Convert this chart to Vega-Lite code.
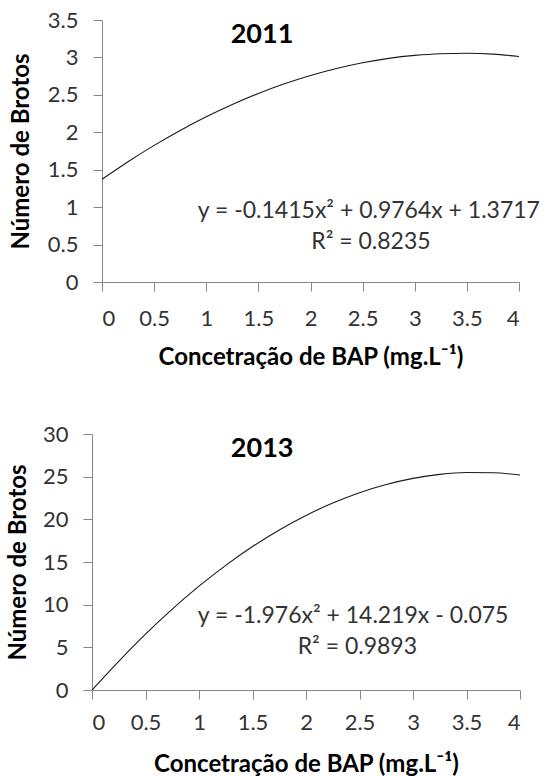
{
  "$schema": "https://vega.github.io/schema/vega-lite/v6.json",
  "background": "white",
  "padding": {"left": 6, "top": 9, "right": 0, "bottom": 0},
  "spacing": 54,
  "datasets": {
    "y2011": [
      {"conc": 0, "brotos": 1.372},
      {"conc": 0.25, "brotos": 1.607},
      {"conc": 0.5, "brotos": 1.825},
      {"conc": 0.75, "brotos": 2.025},
      {"conc": 1, "brotos": 2.207},
      {"conc": 1.25, "brotos": 2.371},
      {"conc": 1.5, "brotos": 2.518},
      {"conc": 1.75, "brotos": 2.647},
      {"conc": 2, "brotos": 2.759},
      {"conc": 2.25, "brotos": 2.852},
      {"conc": 2.5, "brotos": 2.928},
      {"conc": 2.75, "brotos": 2.987},
      {"conc": 3, "brotos": 3.027},
      {"conc": 3.25, "brotos": 3.05},
      {"conc": 3.5, "brotos": 3.056},
      {"conc": 3.75, "brotos": 3.044},
      {"conc": 4, "brotos": 3.013}
    ],
    "y2013": [
      {"conc": 0, "brotos": 0},
      {"conc": 0.25, "brotos": 3.36},
      {"conc": 0.5, "brotos": 6.54},
      {"conc": 0.75, "brotos": 9.48},
      {"conc": 1, "brotos": 12.17},
      {"conc": 1.25, "brotos": 14.61},
      {"conc": 1.5, "brotos": 16.81},
      {"conc": 1.75, "brotos": 18.76},
      {"conc": 2, "brotos": 20.46},
      {"conc": 2.25, "brotos": 21.91},
      {"conc": 2.5, "brotos": 23.12},
      {"conc": 2.75, "brotos": 24.08},
      {"conc": 3, "brotos": 24.8},
      {"conc": 3.25, "brotos": 25.27},
      {"conc": 3.5, "brotos": 25.49},
      {"conc": 3.75, "brotos": 25.46},
      {"conc": 4, "brotos": 25.19}
    ],
    "one": [{}]
  },
  "config": {
    "font": "Lato",
    "view": {"stroke": null},
    "axis": {
      "grid": false,
      "domainColor": "#868686",
      "tickColor": "#868686",
      "tickSize": 9,
      "labelOverlap": false,
      "labelFont": "Lato",
      "labelFontSize": 22,
      "labelColor": "#333333",
      "titleFont": "Lato",
      "titleFontSize": 24,
      "titleFontWeight": "bold",
      "titleColor": "#000000"
    }
  },
  "vconcat": [
    {
      "width": 427,
      "height": 262,
      "layer": [
        {
          "data": {"name": "y2011"},
          "mark": {"type": "line", "color": "#1a1a1a", "strokeWidth": 1.1, "interpolate": "monotone"},
          "encoding": {
            "x": {
              "field": "conc", "type": "quantitative",
              "scale": {"domain": [0, 4], "nice": false, "range": [10, 427]},
              "axis": {"values": [0, 0.5, 1, 1.5, 2, 2.5, 3, 3.5, 4], "format": ".1~f", "labelOverlap": false, "labelPadding": 17, "titlePadding": 16, "title": "Concetração de BAP (mg.L⁻¹)"}
            },
            "y": {
              "field": "brotos", "type": "quantitative",
              "scale": {"domain": [0, 3.5], "nice": false},
              "axis": {"values": [0, 0.5, 1, 1.5, 2, 2.5, 3, 3.5], "tickCount": 8, "format": ".1~f", "labelOverlap": false, "offset": -10, "labelPadding": 15, "titlePadding": 14, "title": "Número de Brotos"}
            }
          }
        },
        {
          "data": {"name": "one"},
          "mark": {"type": "text", "fontSize": 27, "fontWeight": "bold", "color": "#000000"},
          "encoding": {
            "x": {"datum": 1.535, "type": "quantitative"},
            "y": {"datum": 3.3, "type": "quantitative"},
            "text": {"value": "2011"}
          }
        },
        {
          "data": {"name": "one"},
          "mark": {"type": "text", "fontSize": 23, "color": "#333333"},
          "encoding": {
            "x": {"datum": 2.56, "type": "quantitative"},
            "y": {"datum": 0.953, "type": "quantitative"},
            "text": {"value": "y = -0.1415x² + 0.9764x + 1.3717"}
          }
        },
        {
          "data": {"name": "one"},
          "mark": {"type": "text", "fontSize": 23, "color": "#333333"},
          "encoding": {
            "x": {"datum": 2.58, "type": "quantitative"},
            "y": {"datum": 0.54, "type": "quantitative"},
            "text": {"value": "R² = 0.8235"}
          }
        }
      ]
    },
    {
      "width": 428,
      "height": 256,
      "layer": [
        {
          "data": {"name": "y2013"},
          "mark": {"type": "line", "color": "#1a1a1a", "strokeWidth": 1.1, "interpolate": "monotone"},
          "encoding": {
            "x": {
              "field": "conc", "type": "quantitative",
              "scale": {"domain": [0, 4], "nice": false},
              "axis": {"values": [0, 0.5, 1, 1.5, 2, 2.5, 3, 3.5, 4], "format": ".1~f", "labelOverlap": false, "labelPadding": 13, "titlePadding": 19, "title": "Concetração de BAP (mg.L⁻¹)"}
            },
            "y": {
              "field": "brotos", "type": "quantitative",
              "scale": {"domain": [0, 30], "nice": false},
              "axis": {"values": [0, 5, 10, 15, 20, 25, 30], "labelOverlap": false, "labelPadding": 15, "titlePadding": 12, "title": "Número de Brotos"}
            }
          }
        },
        {
          "data": {"name": "one"},
          "mark": {"type": "text", "fontSize": 27, "fontWeight": "bold", "color": "#000000"},
          "encoding": {
            "x": {"datum": 1.59, "type": "quantitative"},
            "y": {"datum": 28.3, "type": "quantitative"},
            "text": {"value": "2013"}
          }
        },
        {
          "data": {"name": "one"},
          "mark": {"type": "text", "fontSize": 23, "color": "#333333"},
          "encoding": {
            "x": {"datum": 2.44, "type": "quantitative"},
            "y": {"datum": 8.64, "type": "quantitative"},
            "text": {"value": "y = -1.976x² + 14.219x - 0.075"}
          }
        },
        {
          "data": {"name": "one"},
          "mark": {"type": "text", "fontSize": 23, "color": "#333333"},
          "encoding": {
            "x": {"datum": 2.48, "type": "quantitative"},
            "y": {"datum": 5.0, "type": "quantitative"},
            "text": {"value": "R² = 0.9893"}
          }
        }
      ]
    }
  ]
}
